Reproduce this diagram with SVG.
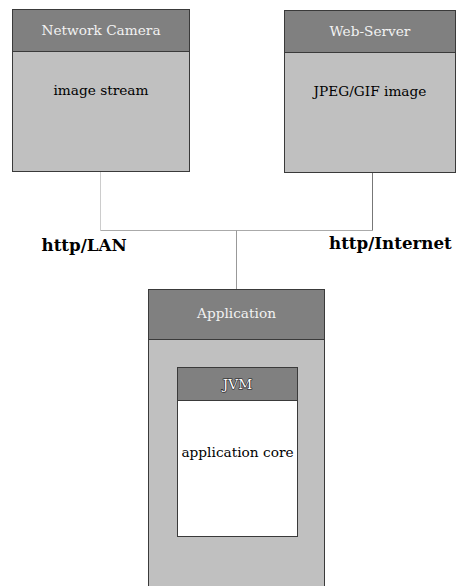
<svg xmlns="http://www.w3.org/2000/svg" width="457" height="586" viewBox="0 0 457 586">
  <style>
    .body { fill: #c0c0c0; stroke: #3a3a3a; stroke-width: 1; }
    .head { fill: #808080; stroke: #3a3a3a; stroke-width: 1; }
    .core { fill: #ffffff; stroke: #3a3a3a; stroke-width: 1; }
    .title { font-family: "DejaVu Serif", serif; font-size: 13.7px; fill: #f2f2f2; text-anchor: middle; }
    .label { font-family: "DejaVu Serif", serif; font-size: 13.7px; fill: #000000; text-anchor: middle; }
    .proto { font-family: "DejaVu Serif", serif; font-size: 16.7px; font-weight: bold; fill: #000000; }
    .shadowed { font-family: "DejaVu Serif", serif; font-size: 13.7px; fill: #ffffff; stroke: #1a1a1a; stroke-width: 1.2; paint-order: stroke; text-anchor: middle; }
  </style>
  <rect width="457" height="586" fill="#ffffff"/>

  <g id="connectors" fill="none">
    <path d="M100.5 172 V230.5" stroke="#cccccc"/>
    <path d="M100.5 230.5 H372.5" stroke="#aaaaaa"/>
    <path d="M372.5 173 V230.5" stroke="#777777"/>
    <path d="M236.5 230.5 V289" stroke="#999999"/>
    <text class="proto" x="41.5" y="251">http/LAN</text>
    <text class="proto" x="329" y="249">http/Internet</text>
  </g>

  <g id="network-camera">
    <rect class="body" x="12.5" y="9.5" width="177" height="162"/>
    <rect class="head" x="12.5" y="9.5" width="177" height="42"/>
    <text class="title" x="101" y="35">Network Camera</text>
    <text class="label" x="101" y="95">image stream</text>
  </g>

  <g id="web-server">
    <rect class="body" x="284.5" y="10.5" width="171" height="162"/>
    <rect class="head" x="284.5" y="10.5" width="171" height="42"/>
    <text class="title" x="370" y="36">Web-Server</text>
    <text class="label" x="370" y="96">JPEG/GIF image</text>
  </g>

  <g id="application">
    <rect class="body" x="148.5" y="289.5" width="176" height="300"/>
    <rect class="head" x="148.5" y="289.5" width="176" height="50"/>
    <text class="title" x="236.5" y="318">Application</text>
  </g>

  <g id="jvm">
    <rect class="core" x="177.5" y="367.5" width="120" height="169"/>
    <rect class="head" x="177.5" y="367.5" width="120" height="33"/>
    <text class="shadowed" x="237.5" y="389">JVM</text>
    <text class="label" x="237.5" y="457">application core</text>
  </g>
</svg>
